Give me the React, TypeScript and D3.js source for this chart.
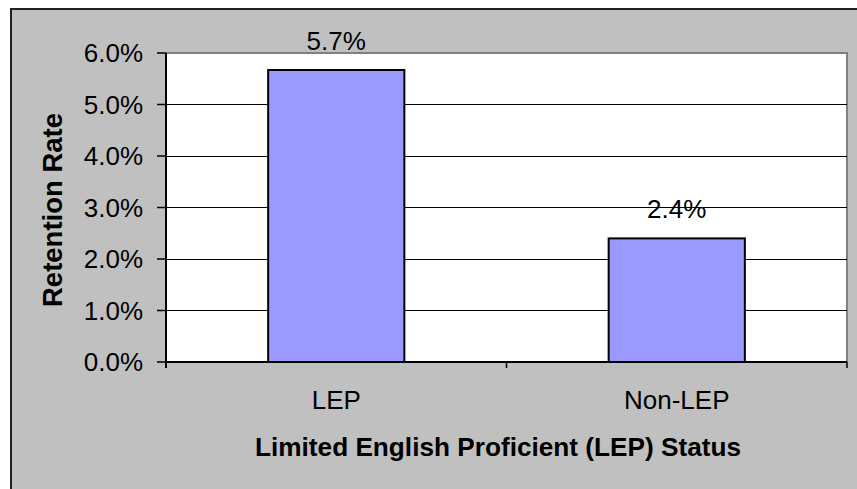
import React from "react";
import * as d3 from "d3";

const categories = ["LEP", "Non-LEP"];
const values = [0.0567, 0.024];
const valueLabels = ["5.7%", "2.4%"];
const yTicks = [0, 0.01, 0.02, 0.03, 0.04, 0.05, 0.06];
const yTitle = "Retention Rate";
const xTitle = "Limited English Proficient (LEP) Status";

const W = 857;
const H = 489;
const plot = { left: 166, right: 847, top: 53, bottom: 362 };
const font = "'Liberation Sans', Arial, sans-serif";

export default function App() {
  const x = d3
    .scaleBand<string>()
    .domain(categories)
    .range([plot.left, plot.right])
    .paddingInner(0.6)
    .paddingOuter(0.3);
  const y = d3.scaleLinear().domain([0, 0.06]).range([plot.bottom, plot.top]);
  const fmt = d3.format(".1%");
  const bandEdges = [plot.left, (plot.left + plot.right) / 2, plot.right];

  return (
    <svg
      width={W}
      height={H}
      style={{ position: "absolute", left: 0, top: 0, display: "block" }}
      fontFamily={font}
    >
      <rect x={0} y={0} width={W} height={H} fill="#ffffff" />
      <rect x={11} y={9} width={W + 20} height={H + 20} fill="#c0c0c0" stroke="#222" strokeWidth={2} />
      <rect
        x={plot.left}
        y={plot.top}
        width={plot.right - plot.left}
        height={plot.bottom - plot.top}
        fill="#ffffff"
      />
      <path
        d={`M${plot.left},${plot.top} H${plot.right} V${plot.bottom}`}
        fill="none"
        stroke="#808080"
        strokeWidth={2}
      />
      {yTicks.slice(1, -1).map((t) => (
        <line
          key={t}
          x1={plot.left}
          x2={plot.right}
          y1={y(t)}
          y2={y(t)}
          stroke="#000"
          strokeWidth={1}
          shapeRendering="crispEdges"
        />
      ))}
      {categories.map((c, i) => (
        <rect
          key={c}
          x={x(c)}
          y={y(values[i])}
          width={x.bandwidth()}
          height={plot.bottom - y(values[i])}
          fill="#9999ff"
          stroke="#000"
          strokeWidth={2}
        />
      ))}
      {categories.map((c, i) => (
        <text
          key={c}
          x={(x(c) as number) + x.bandwidth() / 2}
          y={y(values[i]) - 20}
          textAnchor="middle"
          fontSize={26}
          fill="#000"
        >
          {valueLabels[i]}
        </text>
      ))}
      <line x1={plot.left} x2={plot.left} y1={plot.top} y2={plot.bottom + 6} stroke="#000" strokeWidth={2} />
      <line x1={plot.left} x2={plot.right} y1={plot.bottom} y2={plot.bottom} stroke="#000" strokeWidth={2} />
      {yTicks.map((t) => (
        <g key={t}>
          <line x1={plot.left - 9} x2={plot.left} y1={y(t)} y2={y(t)} stroke="#000" strokeWidth={1.5} />
          <text x={143} y={y(t) + 9} textAnchor="end" fontSize={26} fill="#000">
            {fmt(t)}
          </text>
        </g>
      ))}
      {bandEdges.map((e, i) => (
        <line key={i} x1={e} x2={e} y1={plot.bottom} y2={plot.bottom + 6} stroke="#000" strokeWidth={1.5} />
      ))}
      {categories.map((c) => (
        <text
          key={c}
          x={(x(c) as number) + x.bandwidth() / 2}
          y={409}
          textAnchor="middle"
          fontSize={26}
          fill="#000"
        >
          {c}
        </text>
      ))}
      <text x={498} y={456} textAnchor="middle" fontSize={26.2} fontWeight="bold" fill="#000">
        {xTitle}
      </text>
      <text
        transform={`translate(62,210) rotate(-90)`}
        textAnchor="middle"
        fontSize={27.5}
        fontWeight="bold"
        fill="#000"
      >
        {yTitle}
      </text>
    </svg>
  );
}
